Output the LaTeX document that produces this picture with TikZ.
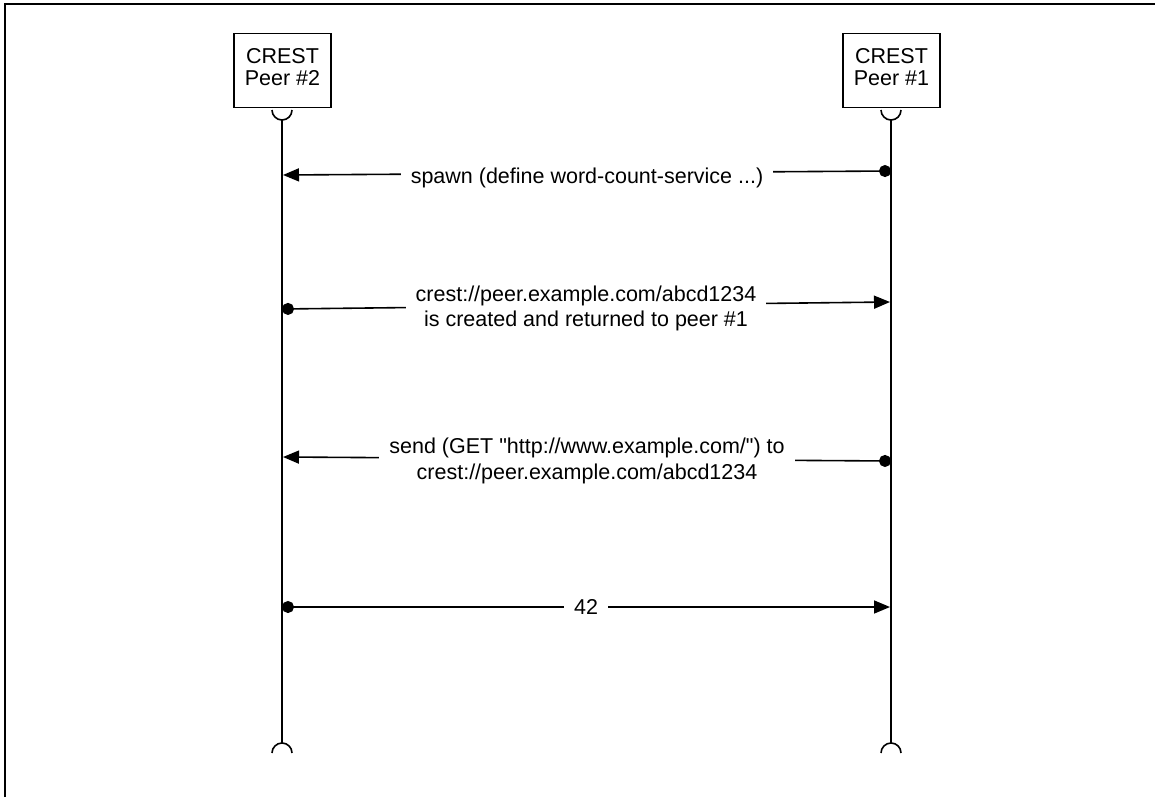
\documentclass[tikz,border=0pt]{standalone}
\usepackage{fontspec}
\setmainfont{Liberation Sans}
% same face without TeX ligatures, so that " stays a straight quote
\newfontfamily\rawsans{Liberation Sans}
\usetikzlibrary{arrows.meta}

\begin{document}
\begin{tikzpicture}[x=1pt,y=-1pt,
  peerbox/.style={draw,line width=1.5pt,minimum width=97pt,minimum height=74pt,inner sep=0pt},
  peertext/.style={inner sep=0pt,align=center,font=\fontsize{21.5}{22}\selectfont},
  lifeline/.style={line width=1.6pt},
  msg/.style={line width=1.6pt,{Circle[length=12pt]}-{Triangle[length=16pt,width=13pt]}},
  lbl/.style={fill=white,inner xsep=10pt,inner ysep=2pt,align=center,
    font=\rawsans\fontsize{21.5}{25.5}\selectfont}]
  \useasboundingbox (0,0) rectangle (1155,797);

  % frame: left and top edges
  \draw[line width=2.2pt] (5,797) -- (5,4) -- (1155,4);

  % participants
  \node[peerbox] (p2) at (282.5,70.5) {};
  \node[peertext] (p2t) at (282.5,67) {CREST\\Peer \#2};
  \node[peerbox] (p1) at (891.5,70.5) {};
  \node[peertext] (p1t) at (891.5,67) {CREST\\Peer \#1};

  % lifelines with socket ends
  \foreach \n/\x in {a/282,b/891}{
    \coordinate (\n top) at (\x,120);
    \coordinate (\n bot) at (\x,743);
    \draw[lifeline] (\x-10,110) arc[start angle=180,end angle=0,radius=10];
    \draw[lifeline] (\x-10,753) arc[start angle=180,end angle=360,radius=10];
    \draw[lifeline] (\n top) -- (\n bot);
  }

  % message end points on the lifelines
  \coordinate (m1r) at (891,171);  \coordinate (m1l) at (283,175);
  \coordinate (m2l) at (282,309);  \coordinate (m2r) at (890,302);
  \coordinate (m3r) at (891,461);  \coordinate (m3l) at (283,457);
  \coordinate (m4l) at (282,607);  \coordinate (m4r) at (890,607);

  % messages
  \draw[msg] (m1r) -- (m1l) node[lbl,pos=0.5,yshift=-5pt] (t1) {spawn (define word-count-service ...)};
  \draw[msg] (m2l) -- (m2r) node[lbl,pos=0.5,yshift=-3pt] (t2) {crest://peer.example.com/abcd1234\\is created and returned to peer \#1};
  \draw[msg] (m3r) -- (m3l) node[lbl,pos=0.5,yshift=-2pt] (t3) {send (GET "http://www.example.com/") to\\crest://peer.example.com/abcd1234};
  \draw[msg] (m4l) -- (m4r) node[lbl,pos=0.5] (t4) {42};
\end{tikzpicture}
\end{document}
